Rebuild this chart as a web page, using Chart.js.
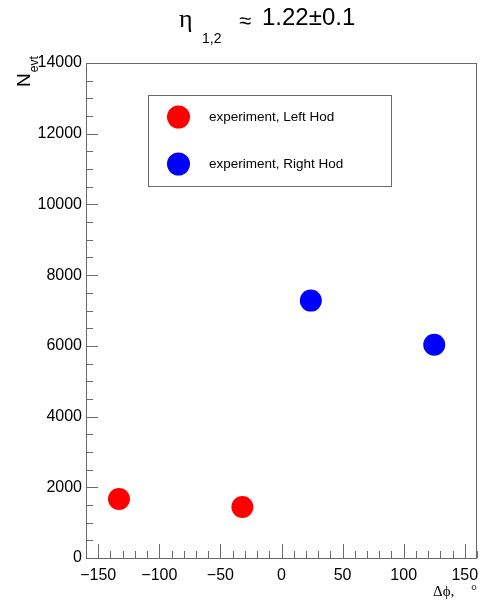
<!DOCTYPE html>
<html>
<head>
<meta charset="utf-8">
<script src="https://cdn.jsdelivr.net/npm/chart.js@4/dist/chart.umd.min.js"></script>
<style>
  html, body { margin: 0; padding: 0; background: #fff; }
  #wrap { width: 481px; height: 601px; position: relative; }
</style>
</head>
<body>
<div id="wrap"><canvas id="c"></canvas></div>
<script>
// Event counts versus azimuthal difference for the two hodoscopes
const seriesNames = ['experiment, Left Hod', 'experiment, Right Hod'];
const seriesColors = ['#ff0000', '#0000ff'];
const leftHodPhi = [-133, -32];
const leftHodEvents = [1670, 1440];
const rightHodPhi = [24, 125];
const rightHodEvents = [7280, 6030];

const xTickValues = [-150, -100, -50, 0, 50, 100, 150];
const yTickValues = [0, 2000, 4000, 6000, 8000, 10000, 12000, 14000];
const xMinorStep = 10;
const yMinorStep = 500;
const xRange = [-160, 160];
const yRange = [0, 14000];

const sans = "'Liberation Sans', Arial, Helvetica, sans-serif";
const serif = "'Liberation Serif', 'Times New Roman', serif";
const lineColor = '#6a6a6a';

function toPoints(xs, ys) {
  return xs.map((x, i) => ({ x: x, y: ys[i] }));
}

// Frame, inward ticks, title, axis titles and the boxed legend
const decorations = {
  id: 'decorations',
  afterDraw(chart) {
    const ctx = chart.ctx;
    const a = chart.chartArea;
    const xs = chart.scales.x;
    const ys = chart.scales.y;
    ctx.save();

    // frame
    ctx.strokeStyle = lineColor;
    ctx.lineWidth = 1;
    ctx.strokeRect(Math.round(a.left) + 0.5, Math.round(a.top) + 0.5,
                   Math.round(a.right - a.left) - 1, Math.round(a.bottom - a.top));

    // x ticks (pointing up from the bottom axis)
    ctx.beginPath();
    for (let v = Math.ceil(xs.min / xMinorStep) * xMinorStep; v <= xs.max; v += xMinorStep) {
      const px = Math.round(xs.getPixelForValue(v)) + 0.5;
      const major = xTickValues.includes(v);
      const len = major ? 14 : 7;
      ctx.moveTo(px, a.bottom);
      ctx.lineTo(px, a.bottom - len);
    }
    // y ticks (pointing right from the left axis)
    for (let v = ys.min; v <= ys.max; v += yMinorStep) {
      const py = Math.round(ys.getPixelForValue(v)) + 0.5;
      const major = yTickValues.includes(v);
      const len = major ? 12 : 7;
      ctx.moveTo(a.left, py);
      ctx.lineTo(a.left + len, py);
    }
    ctx.stroke();

    // title: eta_{1,2} ≈ 1.22±0.1
    ctx.fillStyle = '#000';
    ctx.textAlign = 'left';
    ctx.textBaseline = 'alphabetic';
    ctx.font = '26px ' + serif;
    ctx.fillText('\u03b7', 179, 27);
    ctx.font = '14px ' + sans;
    ctx.fillText('1,2', 202, 43);
    ctx.font = '22px ' + sans;
    ctx.fillText('\u2248', 239, 28);
    ctx.font = '24px ' + sans;
    ctx.fillText('1.22\u00b10.1', 262, 25);

    // y axis title: N_evt
    ctx.save();
    ctx.translate(29.5, 87);
    ctx.rotate(-Math.PI / 2);
    ctx.font = '19px ' + sans;
    ctx.fillText('N', 0, 0);
    const wN = ctx.measureText('N').width;
    ctx.font = '12px ' + sans;
    ctx.fillText('evt', wN + 1, 8);
    ctx.restore();

    // x axis title: Δϕ, °
    ctx.font = '15px ' + serif;
    ctx.fillText('\u0394\u03d5,', 433, 596);
    ctx.fillText('\u00b0', 471, 595);

    // legend box
    const box = { l: 148.5, t: 95.5, r: 391.5, b: 186.5 };
    ctx.fillStyle = '#fff';
    ctx.fillRect(box.l, box.t, box.r - box.l, box.b - box.t);
    ctx.strokeStyle = lineColor;
    ctx.strokeRect(box.l, box.t, box.r - box.l, box.b - box.t);
    const rowY = [117, 164];
    chart.data.datasets.forEach((ds, i) => {
      ctx.beginPath();
      ctx.fillStyle = ds.backgroundColor;
      ctx.arc(178.5, rowY[i], 11.5, 0, Math.PI * 2);
      ctx.fill();
      ctx.fillStyle = '#000';
      ctx.font = '13.5px ' + sans;
      ctx.textBaseline = 'middle';
      ctx.fillText(ds.label, 209, rowY[i]);
    });

    ctx.restore();
  }
};

new Chart(document.getElementById('c'), {
  type: 'scatter',
  data: {
    datasets: [
      {
        label: seriesNames[0],
        data: toPoints(leftHodPhi, leftHodEvents),
        backgroundColor: seriesColors[0],
        borderColor: seriesColors[0],
        pointRadius: 11,
        pointHoverRadius: 11,
        borderWidth: 0
      },
      {
        label: seriesNames[1],
        data: toPoints(rightHodPhi, rightHodEvents),
        backgroundColor: seriesColors[1],
        borderColor: seriesColors[1],
        pointRadius: 11,
        pointHoverRadius: 11,
        borderWidth: 0
      }
    ]
  },
  options: {
    responsive: true,
    maintainAspectRatio: false,
    animation: false,
    events: [],
    layout: { autoPadding: false, padding: { top: 63, right: 4, left: 0, bottom: 0 } },
    plugins: {
      legend: { display: false },
      title: { display: false },
      tooltip: { enabled: false }
    },
    scales: {
      x: {
        type: 'linear',
        min: xRange[0],
        max: xRange[1],
        grid: { display: false, drawTicks: false, tickLength: 0 },
        border: { display: false },
        afterBuildTicks: s => { s.ticks = xTickValues.map(v => ({ value: v })); },
        afterFit: s => { s.height = 43; s.paddingLeft = 0; s.paddingRight = 0; },
        ticks: {
          padding: 8,
          color: '#000',
          maxRotation: 0,
          autoSkip: false,
          font: { family: sans, size: 16 },
          callback: v => (v < 0 ? '\u2212' + Math.abs(v) : String(v))
        }
      },
      y: {
        type: 'linear',
        min: yRange[0],
        max: yRange[1],
        grid: { display: false, drawTicks: false, tickLength: 0 },
        border: { display: false },
        afterBuildTicks: s => { s.ticks = yTickValues.map(v => ({ value: v })); },
        afterFit: s => { s.width = 86; s.paddingTop = 0; s.paddingBottom = 0; },
        ticks: {
          padding: 4,
          color: '#000',
          autoSkip: false,
          font: { family: sans, size: 16 },
          callback: v => String(v)
        }
      }
    }
  },
  plugins: [decorations]
});
</script>
</body>
</html>
